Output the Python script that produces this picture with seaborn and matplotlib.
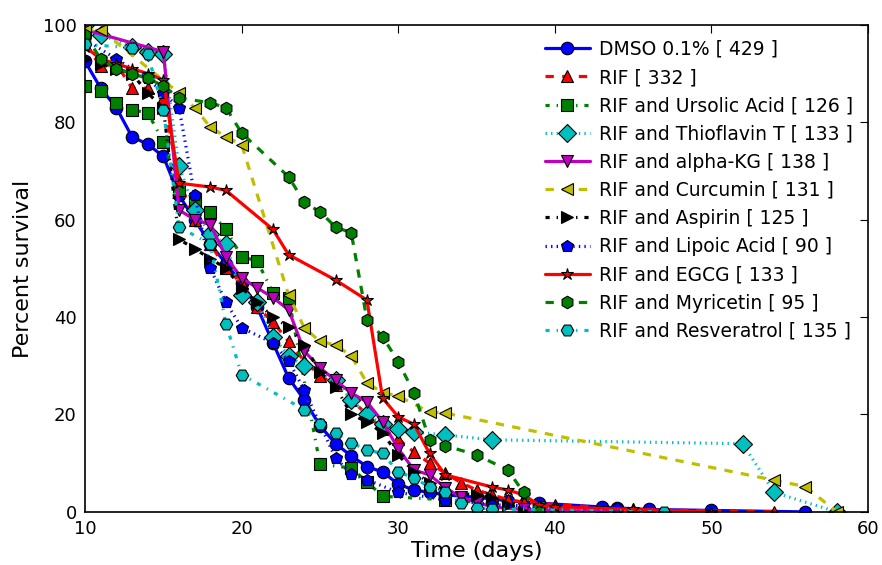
import matplotlib
matplotlib.use("Agg")
import matplotlib.pyplot as plt
import seaborn as sns

# survival data (days, percent survival)
dmso_days = [10, 11, 12, 13, 14, 15, 16, 17, 18, 19, 20, 21, 22, 23, 24, 25, 26, 27, 28, 29, 30, 31, 32, 33, 35, 37, 39, 43, 44, 46, 50, 56]
dmso_vals = [92.5, 87, 83, 77, 75.5, 73, 65, 60, 55, 51, 47, 42, 34.7, 27.5, 23, 17.7, 14, 11.5, 9.3, 8.2, 5.7, 4.5, 4, 3.5, 3, 2.3, 1.8, 1, 0.8, 0.5, 0.3, 0]

rif_days = [10, 11, 12, 13, 14, 15, 16, 17, 18, 19, 20, 21, 22, 23, 24, 25, 26, 27, 28, 29, 30, 31, 32, 33, 34, 35, 36, 37, 38, 40, 45, 54]
rif_vals = [96, 91.5, 92, 87, 87, 85, 68, 60, 55, 50, 47, 42, 39, 35, 31, 28, 26, 23, 20, 17, 15, 12.3, 10, 8, 6, 4.5, 3.5, 2.5, 2, 1.5, 0.5, 0]

urs_days = [10, 11, 12, 13, 14, 15, 16, 17, 18, 19, 20, 21, 22, 23, 25, 27, 28, 29, 33, 39, 43]
urs_vals = [87.5, 86.5, 84, 82.5, 82, 76, 66, 64, 61.6, 58, 52.4, 51.5, 45, 44, 9.8, 9, 6.2, 3.2, 2.5, 1, 0]

thio_days = [10, 11, 13, 14, 15, 16, 17, 18, 19, 20, 21, 22, 23, 24, 26, 27, 28, 29, 30, 31, 33, 36, 52, 54, 58]
thio_vals = [100, 98, 95.5, 94.5, 94, 71, 62, 57, 55, 44.5, 43, 36, 32, 30, 27, 23, 20, 18, 17, 16.4, 15.8, 14.8, 14, 4, 0]

akg_days = [10, 15, 16, 17, 18, 19, 20, 21, 22, 23, 24, 25, 26, 27, 28, 29, 30, 31, 32, 33, 34, 35, 36, 38, 44]
akg_vals = [99, 94.5, 62, 60, 59, 52.4, 48, 46, 44, 41.5, 33, 29.6, 27, 24.4, 22.6, 18.5, 13, 8.6, 7.6, 5, 3, 2, 1, 0.5, 0]

curc_days = [10, 11, 16, 17, 18, 19, 20, 23, 24, 25, 26, 27, 28, 29, 30, 32, 33, 54, 56, 58]
curc_vals = [99, 99, 86, 83, 79, 77, 75.4, 44.5, 37.8, 35, 34.3, 32, 26.5, 24.5, 23.8, 20.5, 20.3, 6.5, 5.2, 0]

asp_days = [10, 11, 12, 13, 14, 15, 16, 17, 18, 19, 20, 21, 22, 23, 24, 25, 26, 27, 28, 29, 30, 31, 32, 33, 35, 36, 37, 38]
asp_vals = [93, 92, 91, 90, 86, 83, 56, 54, 52, 50, 46, 43, 40, 38, 34.3, 28.7, 25.7, 20, 18.5, 16.2, 11.7, 8.2, 6, 4, 3.5, 2.9, 1.5, 0]

lip_days = [10, 12, 14, 15, 16, 17, 18, 19, 20, 22, 23, 24, 25, 26, 27, 28, 30, 33, 36, 39, 44, 45]
lip_vals = [97, 93, 89, 86, 83, 65, 50, 43, 37.8, 34.7, 31, 25, 18, 11, 7.8, 6.6, 4, 2.5, 1.5, 1, 0.8, 0]

egcg_days = [10, 11, 12, 13, 14, 15, 16, 18, 19, 22, 23, 26, 28, 29, 30, 31, 32, 33, 36, 37, 38, 39, 40, 45, 50]
egcg_vals = [95.5, 93, 92, 91, 90, 88.7, 67.5, 66.7, 66, 58, 52.8, 47.6, 43.5, 23.4, 19.5, 18, 12, 7.6, 5.1, 4.5, 3.5, 1.4, 1, 0.5, 0]

myr_days = [10, 11, 12, 13, 14, 15, 16, 18, 19, 20, 23, 24, 25, 26, 27, 28, 29, 30, 31, 32, 33, 35, 37, 38, 39]
myr_vals = [98, 93, 91, 90, 89, 87.5, 85, 84, 83, 77.8, 68.8, 63.6, 61.6, 58.5, 57.3, 39.5, 36, 30.8, 24.5, 14.8, 13.6, 11.7, 8.6, 4, 0]

res_days = [10, 13, 14, 15, 16, 18, 19, 20, 24, 25, 26, 27, 28, 29, 30, 31, 32, 33, 34, 35, 36, 47]
res_vals = [96, 95.3, 94, 82.6, 58.5, 55, 38.6, 28.2, 21, 18, 16.2, 14.2, 12.7, 12, 8.2, 7, 5.1, 4, 1.8, 0.8, 0.6, 0]

labels = [
    "DMSO 0.1% [ 429 ]",
    "RIF [ 332 ]",
    "RIF and Ursolic Acid [ 126 ]",
    "RIF and Thioflavin T [ 133 ]",
    "RIF and alpha-KG [ 138 ]",
    "RIF and Curcumin [ 131 ]",
    "RIF and Aspirin [ 125 ]",
    "RIF and Lipoic Acid [ 90 ]",
    "RIF and EGCG [ 133 ]",
    "RIF and Myricetin [ 95 ]",
    "RIF and Resveratrol [ 135 ]",
]
series = [
    (dmso_days, dmso_vals), (rif_days, rif_vals), (urs_days, urs_vals),
    (thio_days, thio_vals), (akg_days, akg_vals), (curc_days, curc_vals),
    (asp_days, asp_vals), (lip_days, lip_vals), (egcg_days, egcg_vals),
    (myr_days, myr_vals), (res_days, res_vals),
]

colors = ["b", "r", "g", "c", "m", "y", "k", "b", "r", "g", "c"]
markers = ["o", "^", "s", "D", "v", "<", ">", "p", "*", "h", "H"]
# old-style (unscaled) dash patterns: solid, dashed, dash-dot, dotted
cycle = ["-", (0, (6, 6)), (0, (3, 5, 1, 5)), (0, (1, 3))]
styles = [cycle[i % 4] for i in range(len(labels))]

sns.set_style("white")
plt.rcParams["font.family"] = ["DejaVu Sans"]
plt.rcParams["lines.scale_dashes"] = False
plt.rcParams["text.color"] = "black"
plt.rcParams["axes.labelcolor"] = "black"
plt.rcParams["xtick.color"] = "black"
plt.rcParams["ytick.color"] = "black"

fig = plt.figure(figsize=(8.82, 5.65), dpi=100)
ax = fig.add_axes([0.0964, 0.094, 0.8878, 0.862])

for (d, v), lab, c, m, ls in zip(series, labels, colors, markers, styles):
    sns.lineplot(x=d, y=v, ax=ax, color=c, marker=m, linestyle=ls,
                 linewidth=2.3, markersize=9, markeredgecolor="black",
                 markeredgewidth=0.8, label=lab, sort=False)

ax.set_xlim(10, 60)
ax.set_ylim(0, 100)
ax.set_xticks([10, 20, 30, 40, 50, 60])
ax.set_yticks([0, 20, 40, 60, 80, 100])
ax.set_xlabel("Time (days)", fontsize=16, labelpad=2)
ax.set_ylabel("Percent survival", fontsize=16, labelpad=7)
ax.tick_params(direction="in", length=6, labelsize=13, top=True, right=True, pad=6,
               colors="black")
for s in ax.spines.values():
    s.set_color("black")
    s.set_linewidth(1.2)

ax.legend(loc="upper right", frameon=False, fontsize=13.5, handlelength=2.4,
          handletextpad=0.5, labelspacing=0.49, borderaxespad=0.4, numpoints=1)

fig.savefig("out.png", dpi=100)
